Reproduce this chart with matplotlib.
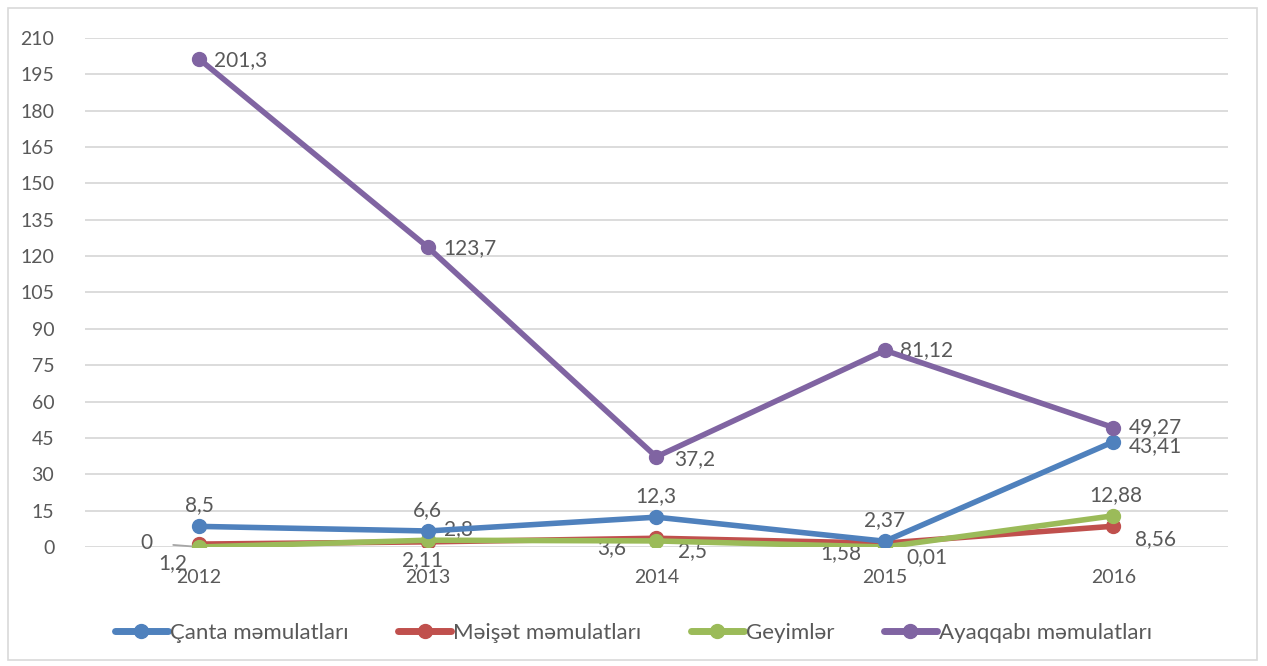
import matplotlib.pyplot as plt
from matplotlib.patches import Rectangle

plt.rcParams['font.family'] = ['Lato', 'DejaVu Sans']

years = ['2012', '2013', '2014', '2015', '2016']
canta = [8.5, 6.6, 12.3, 2.37, 43.41]
meiset = [1.2, 2.11, 3.6, 1.58, 8.56]
geyim = [0, 2.8, 2.5, 0.01, 12.88]
ayaqqabi = [201.3, 123.7, 37.2, 81.12, 49.27]

names = ['Çanta məmulatları', 'Məişət məmulatları', 'Geyimlər', 'Ayaqqabı məmulatları']
colors = ['#4f81bd', '#c0504d', '#9bbb59', '#8064a2']

# label offsets (points) for each series / point
off_canta = [(0, 15), (0, 15), (0, 15), (0, 15), (30, -3)]
off_meiset = [(-19, -14), (-4, -13), (-32, -7), (-32, -7), (30, -9)]
off_geyim = [(-38, 3), (22, 8), (26, -7), (30, -7), (2, 15)]
off_ayaq = [(30, -1), (30, -1), (28, -2), (30, 0), (30, 0)]

fig = plt.figure(figsize=(12.67, 6.66), dpi=100)
ax = fig.add_axes([0.067, 0.1787, 0.902, 0.7643])

x = list(range(len(years)))
series = [canta, meiset, geyim, ayaqqabi]
offs = [off_canta, off_meiset, off_geyim, off_ayaq]
zs = [3.3, 3.1, 3.2, 3.4]
for i in range(4):
    ax.plot(x, series[i], color=colors[i], lw=4, marker='o', ms=10,
            label=names[i], solid_capstyle='round', zorder=zs[i])

txt = '#595959'
for i in range(4):
    for j, v in enumerate(series[i]):
        lab = ('%g' % v).replace('.', ',')
        dx, dy = offs[i][j]
        leader = (i == 1 and j in (2, 3)) or (i == 2 and j in (0, 2, 3))
        if leader:
            ax.annotate(lab, (x[j], v), xytext=(dx, dy), textcoords='offset points',
                        ha='center', va='center', fontsize=15, color=txt,
                        arrowprops=dict(arrowstyle='-', color='#a6a6a6', lw=1.3,
                                        shrinkA=13, shrinkB=2))
        else:
            ax.annotate(lab, (x[j], v), xytext=(dx, dy), textcoords='offset points',
                        ha='center', va='center', fontsize=15, color=txt)

ax.set_xlim(-0.5, 4.5)
ax.set_ylim(0, 210)
ax.set_yticks(range(0, 211, 15))
ax.set_xticks(x)
ax.set_xticklabels(years)
ax.tick_params(axis='both', length=0, labelsize=14, colors=txt)
ax.tick_params(axis='y', pad=22)
ax.tick_params(axis='x', pad=16)
ax.grid(axis='y', color='#d9d9d9', lw=1.3)
ax.set_axisbelow(True)
for s in ax.spines.values():
    s.set_visible(False)

leg = fig.legend(loc='center', bbox_to_anchor=(0.5, 0.05), ncol=4, frameon=False,
                 fontsize=16, labelcolor=txt, handlelength=2.4, handletextpad=0.1,
                 columnspacing=2.2)
for h in leg.legend_handles:
    h.set_linewidth(5)

fig.add_artist(Rectangle((8 / 1267, 6 / 666), 1249 / 1267, 652 / 666,
                         transform=fig.transFigure, fill=False,
                         edgecolor='#d9d9d9', lw=1.2))

fig.savefig('out.png', dpi=100)
